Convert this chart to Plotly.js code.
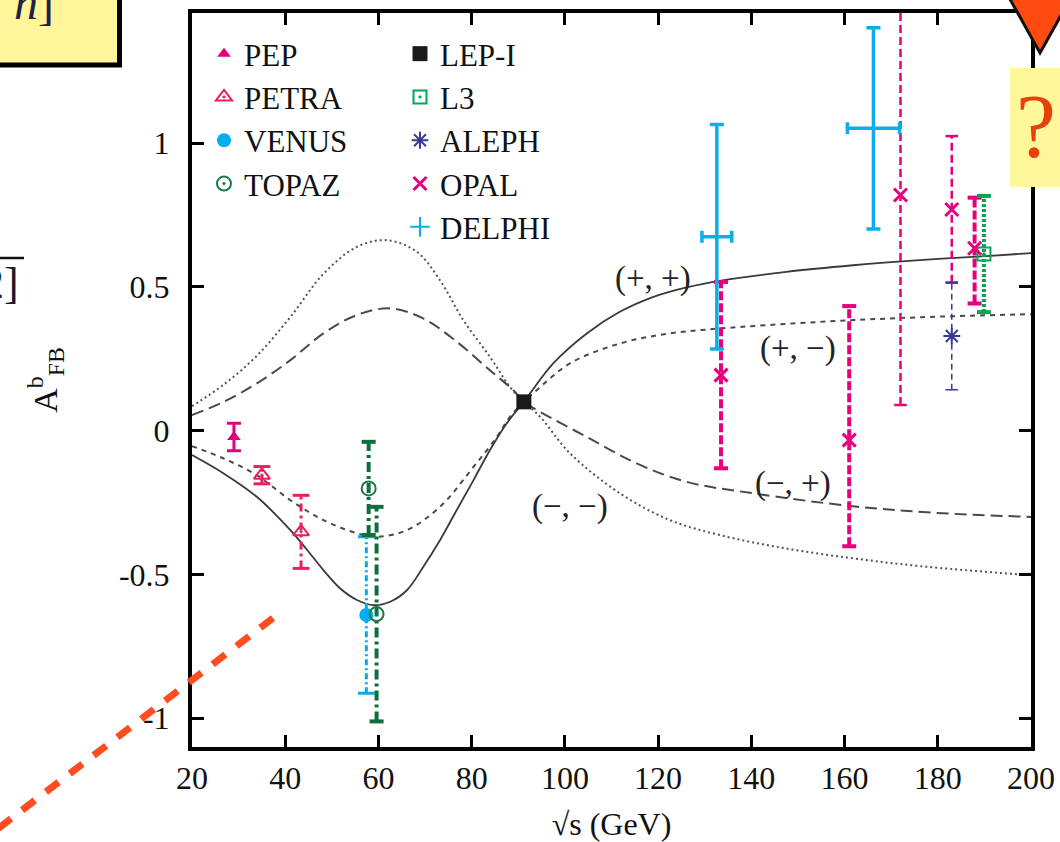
<!DOCTYPE html>
<html>
<head>
<meta charset="utf-8">
<script src="https://cdn.plot.ly/plotly-3.0.1.min.js"></script>
<style>html,body{margin:0;padding:0;background:#fff;}#chart{width:1060px;height:842px;}</style>
</head>
<body>
<div id="chart"></div>
<script>
// ---------- theory curves ----------
const sqrtS_pp = [20, 26.8, 33.9, 41.1, 44.7, 48.2, 51.8, 55.4, 58.9, 62.5, 66.1, 69.6, 73.2, 76.8, 80.4, 83.9, 87.5, 91.2, 92.5, 97.5, 104.7, 111.8, 119.0, 126.1, 133.2, 147.5, 161.8, 176.1, 190.4, 200];
const afb_pp   = [-0.085, -0.149, -0.23, -0.346, -0.415, -0.485, -0.549, -0.589, -0.607, -0.595, -0.555, -0.474, -0.381, -0.276, -0.172, -0.068, 0.025, 0.1, 0.129, 0.234, 0.338, 0.413, 0.465, 0.498, 0.521, 0.552, 0.575, 0.593, 0.607, 0.617];

const sqrtS_pm = [20, 26.8, 33.9, 41.1, 48.2, 55.4, 59.7, 66.1, 73.2, 80.4, 85.4, 88.2, 91.2, 94.0, 101.1, 111.8, 122.5, 133.2, 154.7, 176.1, 200];
const afb_pm   = [-0.054, -0.097, -0.155, -0.242, -0.311, -0.357, -0.369, -0.346, -0.265, -0.126, -0.022, 0.048, 0.1, 0.141, 0.234, 0.303, 0.338, 0.355, 0.378, 0.394, 0.405];

const sqrtS_mp = [20, 26.8, 33.9, 41.1, 48.2, 55.4, 62.5, 69.6, 76.8, 83.9, 88.9, 91.2, 94.7, 104.7, 115.4, 126.1, 140.4, 161.8, 179.7, 200];
const afb_mp   = [0.054, 0.100, 0.164, 0.245, 0.338, 0.402, 0.425, 0.390, 0.309, 0.210, 0.141, 0.1, 0.065, -0.022, -0.114, -0.178, -0.218, -0.263, -0.286, -0.300];

const sqrtS_mm = [20, 26.8, 33.9, 41.1, 48.2, 55.4, 61.8, 68.2, 73.2, 78.2, 83.9, 88.2, 91.2, 94.7, 101.1, 111.8, 122.5, 133.2, 147.5, 161.8, 176.1, 200];
const afb_mm   = [0.085, 0.16, 0.26, 0.395, 0.545, 0.639, 0.662, 0.622, 0.523, 0.384, 0.257, 0.152, 0.1, 0.048, -0.079, -0.218, -0.311, -0.363, -0.410, -0.444, -0.471, -0.503];

const curveLabels = ['(+, +)', '(+, \u2212)', '(\u2212, +)', '(\u2212, \u2212)'];

// ---------- measurements ----------
const pepX = [29.0],  pepY = [-0.022], pepErr = [0.048];
const petraX = [35.0, 43.4], petraY = [-0.155, -0.352], petraErr = [0.03, 0.127];
const venusX = [57.4], venusY = [-0.641], venusErr = [0.272];
const topazX = [57.9, 59.6], topazY = [-0.201, -0.638], topazErr = [0.162, 0.373];
const lepX = [91.2], lepY = [0.1];
const l3X = [189.9], l3Y = [0.614], l3Err = [0.202];
const alephX = [183.0], alephY = [0.329], alephErr = [0.187];
const opalX = [133.5, 161.0, 172.0, 183.0, 187.9];
const opalY = [0.193, -0.033, 0.819, 0.769, 0.634];
const opalErrPlus  = [0.324, 0.466, 0.73, 0.255, 0.176];
const opalErrMinus = [0.324, 0.369, 0.73, 0.255, 0.192];
const delphiX = [132.6, 166.2], delphiY = [0.674, 1.051], delphiErrY = [0.39, 0.35], delphiErrX = [3.2, 5.6];

const xTicks = [20, 40, 60, 80, 100, 120, 140, 160, 180, 200];
const yTicks = [-1, -0.5, 0, 0.5, 1];
const yTickText = ['-1', '-0.5', '0', '0.5', '1'];

// ---------- layout helpers ----------
const W = 1060, H = 842;
const M = {l: 192, r: 29, t: 13, b: 95};
const pw = W - M.l - M.r, ph = H - M.t - M.b;
const PX = p => (p - M.l) / pw;          // pixel -> paper x
const PY = p => (H - M.b - p) / ph;      // pixel -> paper y
const SERIF = 'Liberation Serif, Times New Roman, serif';

function segs(xs, ys, plus, minus) {
  const X = [], Y = [];
  xs.forEach((x, i) => { X.push(x, x, null); Y.push(ys[i] - minus[i], ys[i] + plus[i], null); });
  return {X, Y};
}
function caps(xs, ys, plus, minus) {
  const X = [], Y = [];
  xs.forEach((x, i) => { X.push(x, x); Y.push(ys[i] - minus[i], ys[i] + plus[i]); });
  return {X, Y};
}
function barTraces(xs, ys, plus, minus, color, width, dash, capSize) {
  const s = segs(xs, ys, plus, minus), c = caps(xs, ys, plus, minus);
  return [
    {x: s.X, y: s.Y, mode: 'lines', line: {color, width, dash}, showlegend: false, hoverinfo: 'skip'},
    {x: c.X, y: c.Y, mode: 'markers', marker: {symbol: 'line-ew', size: capSize, line: {color, width: width}}, showlegend: false, hoverinfo: 'skip', cliponaxis: true}
  ];
}
function pick(arr, idx) { return idx.map(i => arr[i]); }

const traces = [];
// theory curves
const SM = 1.0;
traces.push({x: sqrtS_mm, y: afb_mm, mode: 'lines', line: {color: '#555', width: 2, dash: '2px,3px', shape: 'spline', smoothing: SM}, showlegend: false, hoverinfo: 'skip'});
traces.push({x: sqrtS_mp, y: afb_mp, mode: 'lines', line: {color: '#4a4a4a', width: 2, dash: '12px,6px', shape: 'spline', smoothing: SM}, showlegend: false, hoverinfo: 'skip'});
traces.push({x: sqrtS_pm, y: afb_pm, mode: 'lines', line: {color: '#4a4a4a', width: 2, dash: '5px,5px', shape: 'spline', smoothing: SM}, showlegend: false, hoverinfo: 'skip'});
traces.push({x: sqrtS_pp, y: afb_pp, mode: 'lines', line: {color: '#3a3a3a', width: 1.8, shape: 'spline', smoothing: SM}, showlegend: false, hoverinfo: 'skip'});

const C = {pep: '#E4007C', petra: '#E8205E', venus: '#00AEEF', topaz: '#1B7A4C', l3: '#00A651', aleph: '#3A3A95', opal: '#E6007E', delphi: '#0AAEEA'};

// dashed error bars
traces.push(...barTraces(petraX, petraY, petraErr, petraErr, C.petra, 3, '8px,4px,3px,4px', 12));
traces.push(...barTraces(venusX, venusY, venusErr, venusErr, C.venus, 3, '6px,3px,2px,3px', 12));
traces.push(...barTraces(topazX, topazY, topazErr, topazErr, '#0F6E3E', 4, '10px,4px,3px,4px', 10));
const thick = [0, 1, 4], thin = [2, 3];
traces.push(...barTraces(pick(opalX, thick), pick(opalY, thick), pick(opalErrPlus, thick), pick(opalErrMinus, thick), C.opal, 4, '9px,3px', 10));
traces.push(...barTraces(pick(opalX, thin), pick(opalY, thin), pick(opalErrPlus, thin), pick(opalErrMinus, thin), C.opal, 2.5, '8px,4px', 9));
traces.push(...barTraces(alephX, alephY, alephErr, alephErr, C.aleph, 1.5, '6px,4px', 9));
traces.push(...barTraces(l3X, l3Y, l3Err, l3Err, C.l3, 4, '3px,2px', 10));

// markers (legend 1)
traces.push({name: 'PEP', x: pepX, y: pepY, mode: 'markers', legend: 'legend', legendrank: 1,
  marker: {symbol: 'triangle-up', size: 12, color: C.pep},
  error_y: {type: 'data', array: pepErr, color: C.pep, thickness: 3, width: 7}});
traces.push({name: 'PETRA', x: petraX, y: petraY, mode: 'markers', legend: 'legend', legendrank: 2,
  marker: {symbol: 'triangle-up-open-dot', size: 14, color: C.petra, line: {width: 2, color: C.petra}}});
traces.push({name: 'VENUS', x: venusX, y: venusY, mode: 'markers', legend: 'legend', legendrank: 3,
  marker: {symbol: 'circle', size: 14, color: C.venus}});
traces.push({name: 'TOPAZ', x: topazX, y: topazY, mode: 'markers', legend: 'legend', legendrank: 4,
  marker: {symbol: 'circle-open-dot', size: 14, color: C.topaz, line: {width: 2, color: C.topaz}}});
// markers (legend 2)
traces.push({name: 'LEP-I', x: lepX, y: lepY, mode: 'markers', legend: 'legend2', legendrank: 1,
  marker: {symbol: 'square', size: 15, color: '#1a1a1a'}});
traces.push({name: 'L3', x: l3X, y: l3Y, mode: 'markers', legend: 'legend2', legendrank: 2,
  marker: {symbol: 'square-open-dot', size: 13, color: C.l3, line: {width: 2, color: C.l3}}});
traces.push({name: 'ALEPH', x: alephX, y: alephY, mode: 'markers', legend: 'legend2', legendrank: 3,
  marker: {symbol: 'asterisk-open', size: 14, color: C.aleph, line: {width: 2, color: C.aleph}}});
traces.push({name: 'OPAL', x: opalX, y: opalY, mode: 'markers', legend: 'legend2', legendrank: 4,
  marker: {symbol: 'x-thin-open', size: 13, color: C.opal, line: {width: 3, color: C.opal}}});
traces.push({name: 'DELPHI', x: delphiX, y: delphiY, mode: 'markers', legend: 'legend2', legendrank: 5,
  marker: {symbol: 'cross-thin-open', size: 14, color: C.delphi, line: {width: 2, color: C.delphi}},
  error_y: {type: 'data', array: delphiErrY, color: C.delphi, thickness: 3.5, width: 7},
  error_x: {type: 'data', array: delphiErrX, color: C.delphi, thickness: 3.5, width: 6}});

const axisCommon = {
  showline: true, linewidth: 4, linecolor: '#000', mirror: 'ticks',
  ticks: 'inside', ticklen: 12, tickwidth: 3, tickcolor: '#000',
  showgrid: false, zeroline: false, automargin: false,
  tickfont: {family: SERIF, size: 32, color: '#111'}
};

const legendFont = {family: SERIF, size: 31, color: '#111'};

const layout = {
  width: W, height: H,
  margin: M,
  paper_bgcolor: '#fff', plot_bgcolor: '#fff',
  showlegend: true,
  xaxis: Object.assign({}, axisCommon, {
    range: [20, 200], tickvals: xTicks, ticktext: xTicks.map(String), ticklabelstandoff: 0,
    title: {text: '\u221As (GeV)', font: {family: SERIF, size: 32, color: '#111'}, standoff: 24}
  }),
  yaxis: Object.assign({}, axisCommon, {
    range: [-1.1, 1.452], tickvals: yTicks, ticktext: yTickText, ticklabelstandoff: 12,
    title: {text: 'A<sup>b</sup><sub>FB</sub>', font: {family: SERIF, size: 34, color: '#111'}, standoff: 52}
  }),
  legend: {x: PX(204), y: PY(27), xanchor: 'left', yanchor: 'top', bgcolor: 'rgba(0,0,0,0)', borderwidth: 0,
    font: legendFont, traceorder: 'normal', itemclick: false},
  legend2: {x: PX(400), y: PY(27), xanchor: 'left', yanchor: 'top', bgcolor: 'rgba(0,0,0,0)', borderwidth: 0,
    font: legendFont, traceorder: 'normal', itemclick: false},
  annotations: [
    {xref: 'x', yref: 'y', x: 118.9, y: 0.529, text: curveLabels[0], showarrow: false, font: {family: SERIF, size: 33, color: '#222'}},
    {xref: 'x', yref: 'y', x: 150.0, y: 0.286, text: curveLabels[1], showarrow: false, font: {family: SERIF, size: 33, color: '#222'}},
    {xref: 'x', yref: 'y', x: 149.0, y: -0.184, text: curveLabels[2], showarrow: false, font: {family: SERIF, size: 33, color: '#222'}},
    {xref: 'x', yref: 'y', x: 101.1, y: -0.265, text: curveLabels[3], showarrow: false, font: {family: SERIF, size: 33, color: '#222'}},
    // decoration fragments
    {xref: 'paper', yref: 'paper', x: PX(34), y: PY(2), xanchor: 'center', yanchor: 'middle', text: '<i>h</i>]', showarrow: false, font: {family: SERIF, size: 48, color: '#1F2244'}},
    {xref: 'paper', yref: 'paper', x: PX(21), y: PY(284), xanchor: 'right', yanchor: 'middle', text: '2]', showarrow: false, font: {family: SERIF, size: 44, color: '#1a1a2a'}},
    {xref: 'paper', yref: 'paper', x: PX(1036), y: PY(126), xanchor: 'center', yanchor: 'middle', text: '?', showarrow: false, font: {family: SERIF, size: 90, color: '#E8400C'}}
  ],
  shapes: [
    {type: 'rect', xref: 'paper', yref: 'paper', x0: PX(-10), x1: PX(119.5), y0: PY(-10), y1: PY(65), fillcolor: '#FFF59A', line: {color: '#000', width: 5}, layer: 'above'},
    {type: 'line', xref: 'paper', yref: 'paper', x0: PX(-5), x1: PX(24), y0: PY(258), y1: PY(258), line: {color: '#111', width: 2.5}, layer: 'above'},
    {type: 'line', xref: 'paper', yref: 'paper', x0: PX(273), y0: PY(618), x1: PX(-10), y1: PY(834.7), line: {color: '#FF4D1F', width: 7, dash: '16px,14px'}, layer: 'above'},
    {type: 'rect', xref: 'paper', yref: 'paper', x0: PX(1010), x1: PX(1070), y0: PY(68), y1: PY(187), fillcolor: '#FFF799', line: {width: 0}, layer: 'above'},
    {type: 'path', xref: 'paper', yref: 'paper',
      path: `M ${PX(1006)} ${PY(-8)} L ${PX(1074)} ${PY(-8)} L ${PX(1040)} ${PY(53)} Z`,
      fillcolor: '#FF4A12', line: {color: '#111', width: 3}, layer: 'above'}
  ]
};

Plotly.newPlot('chart', traces, layout, {staticPlot: true, displayModeBar: false});
</script>
</body>
</html>
